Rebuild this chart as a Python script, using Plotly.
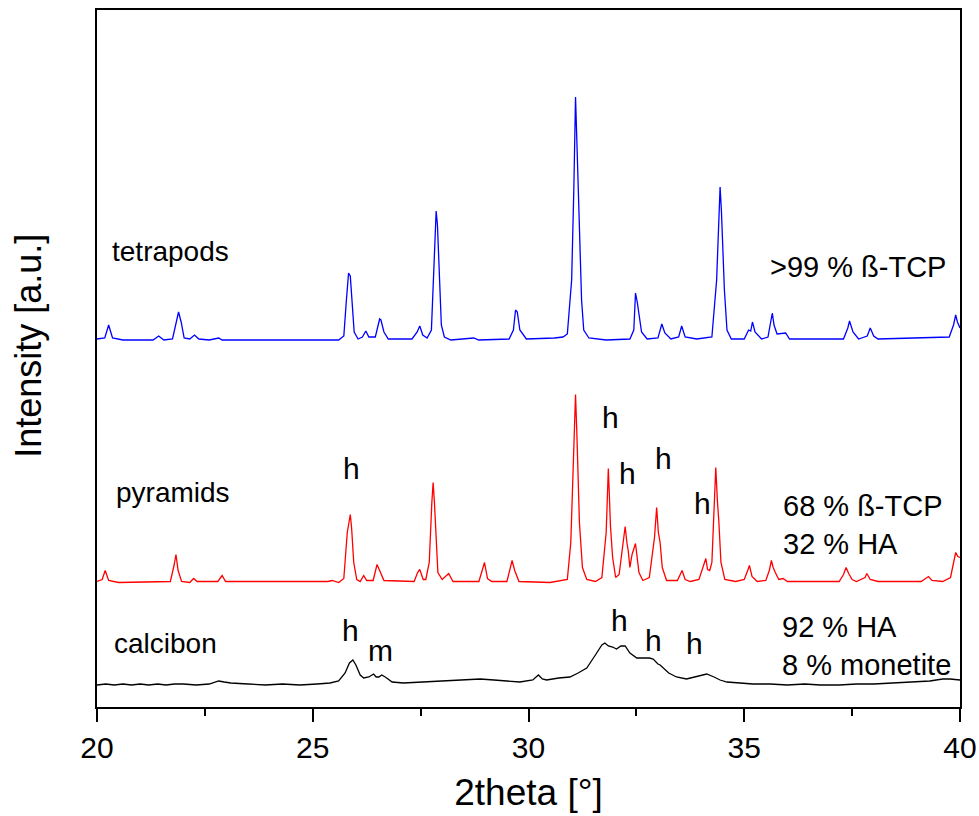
import plotly.graph_objects as go

# ---------------- data (2theta [deg], intensity above each pattern's baseline [a.u.]) ----------------
tetra_x = [20.00, 20.18, 20.27, 20.36, 20.6, 21.3, 21.43, 21.55, 21.75, 21.85, 21.89, 21.95, 22.02, 22.15,
           22.26, 22.36, 22.6, 22.82, 22.9, 25.6, 25.72, 25.78, 25.83, 25.87, 25.91, 25.96, 26.05, 26.15,
           26.23, 26.3, 26.45, 26.55, 26.58, 26.65, 26.75, 27.3, 27.42, 27.48, 27.55, 27.65, 27.75, 27.81,
           27.86, 27.89, 27.93, 27.98, 28.05, 28.2, 28.73, 28.85, 29.55, 29.65, 29.70, 29.74, 29.80, 29.95,
           30.6, 30.8, 30.9, 31.0, 31.05, 31.09, 31.12, 31.16, 31.19, 31.23, 31.28, 31.4, 31.8, 32.35,
           32.44, 32.48, 32.52, 32.56, 32.62, 32.75, 33.00, 33.09, 33.16, 33.3, 33.48, 33.55, 33.63, 33.9,
           34.25, 34.36, 34.41, 34.44, 34.47, 34.50, 34.54, 34.60, 34.7, 35.0, 35.10, 35.15, 35.19, 35.25,
           35.4, 35.55, 35.62, 35.65, 35.69, 35.76, 35.96, 36.05, 37.3, 37.40, 37.44, 37.52, 37.65, 37.85,
           37.92, 38.0, 38.1, 39.75, 39.85, 39.90, 39.94, 40.0]
tetra_y = [1, 2, 15, 2, 0, 0, 4, 0, 1, 22, 28, 18, 2, 1,
           5, 1, 0, 2, 0, 0, 4, 40, 67, 64, 37, 8, 1, 3,
           9, 3, 3, 21, 20, 8, 1, 1, 8, 14, 5, 2, 10, 80,
           129, 115, 60, 15, 3, 0, 2, 0, 1, 10, 30, 28, 10, 1,
           2, 3, 6, 60, 150, 243, 200, 137, 112, 40, 10, 2, 0, 1,
           10, 47, 38, 27, 8, 1, 2, 16, 7, 1, 3, 14, 3, 1,
           3, 60, 110, 153, 130, 92, 50, 10, 1, 1, 10, 9, 18, 8,
           1, 3, 20, 27, 15, 6, 7, 1, 1, 12, 19, 8, 1, 4,
           12, 4, 1, 3, 15, 25, 18, 12]

pyr_x = [20.0, 20.12, 20.19, 20.27, 20.5, 21.7, 21.79, 21.83, 21.88, 21.96, 22.15, 22.24, 22.32, 22.8,
         22.90, 22.98, 25.35, 25.45, 25.6, 25.72, 25.80, 25.87, 25.90, 25.95, 26.02, 26.10, 26.18, 26.25,
         26.4, 26.49, 26.55, 26.65, 27.35, 27.43, 27.48, 27.56, 27.62, 27.70, 27.76, 27.79, 27.82, 27.85,
         27.90, 28.0, 28.15, 28.25, 28.85, 28.94, 28.98, 29.05, 29.15, 29.5, 29.58, 29.62, 29.68, 29.78,
         30.5, 30.9, 30.98, 31.04, 31.09, 31.12, 31.15, 31.18, 31.25, 31.35, 31.55, 31.70, 31.80, 31.85,
         31.88, 31.90, 31.95, 32.02, 32.1, 32.20, 32.24, 32.28, 32.31, 32.35, 32.40, 32.48, 32.52, 32.56,
         32.65, 32.80, 32.92, 32.97, 33.01, 33.05, 33.10, 33.2, 33.45, 33.52, 33.56, 33.63, 33.75, 33.95,
         34.06, 34.11, 34.15, 34.20, 34.25, 34.30, 34.34, 34.38, 34.41, 34.46, 34.55, 34.8, 35.0, 35.08,
         35.12, 35.18, 35.3, 35.5, 35.58, 35.63, 35.67, 35.72, 35.80, 35.90, 36.0, 37.2, 37.30, 37.36,
         37.42, 37.5, 37.6, 37.80, 37.84, 37.92, 38.1, 39.1, 39.22, 39.27, 39.35, 39.6, 39.78, 39.85,
         39.90, 39.95, 40.0]
pyr_y = [1, 3, 12, 2, 0, 1, 18, 28, 12, 1, 0, 4, 1, 1,
         7, 1, 1, 2, 0, 4, 50, 68, 55, 20, 3, 1, 7, 2,
         2, 18, 12, 2, 1, 10, 13, 3, 3, 20, 80, 100, 80, 47,
         10, 3, 9, 1, 1, 14, 20, 4, 1, 1, 15, 22, 12, 1,
         0, 3, 40, 120, 188, 150, 90, 60, 15, 3, 1, 5, 50, 114,
         80, 56, 25, 5, 8, 40, 56, 40, 32, 15, 28, 39, 22, 10,
         2, 5, 45, 75, 50, 40, 15, 2, 2, 8, 12, 3, 1, 3,
         18, 24, 13, 12, 20, 80, 115, 80, 62, 20, 3, 1, 3, 12,
         17, 6, 1, 2, 12, 22, 15, 10, 3, 4, 1, 1, 8, 15,
         9, 3, 1, 5, 9, 3, 1, 1, 4, 6, 2, 1, 5, 18,
         30, 26, 25]

calc_x = [20.0, 20.2, 20.4, 20.6, 20.8, 21.0, 21.2, 21.4, 21.6, 21.8, 22.0, 22.3, 22.6, 22.82, 22.95, 23.1,
          23.5, 23.9, 24.3, 24.7, 25.1, 25.4, 25.6, 25.75, 25.85, 25.93, 26.0, 26.1, 26.18, 26.3, 26.41,
          26.47, 26.53, 26.6, 26.68, 26.84, 27.1, 27.5, 27.9, 28.3, 28.6, 28.88, 29.2, 29.5, 29.8, 30.1,
          30.23, 30.32, 30.42, 30.7, 30.96, 31.15, 31.35, 31.55, 31.70, 31.77, 31.85, 31.95, 32.04, 32.14,
          32.24, 32.35, 32.51, 32.65, 32.80, 32.89, 33.0, 33.05, 33.25, 33.43, 33.66, 33.85, 34.0, 34.13,
          34.3, 34.44, 34.6, 34.82, 35.2, 35.6, 36.0, 36.4, 36.76, 37.2, 37.6, 38.0, 38.4, 38.8, 39.0,
          39.3, 39.6, 39.77, 40.0]
calc_y = [0, 1, 0, 1, 0, 1, 0, 1, 0, 1, 1, 0, 1, 4, 3, 2,
          1, 0, 1, 0, 1, 2, 4, 12, 22, 25, 20, 10, 7, 8, 11,
          8, 8, 10, 8, 3, 2, 3, 4, 5, 5, 6, 5, 4, 3, 5,
          10, 6, 5, 7, 8, 12, 17, 30, 40, 42, 39, 38, 36, 39,
          39, 32, 27, 27, 27, 26, 21, 20, 12, 8, 6, 8, 10, 11,
          8, 5, 3, 2, 1, 1, 0, 1, 0, 0, 1, 1, 2, 3, 4,
          4, 6, 6, 5]

# labels
sample_names = ["tetrapods", "pyramids", "calcibon"]
phase_texts = [">99 % ß-TCP", "68 % ß-TCP<br>32 % HA", "92 % HA<br>8 % monetite"]

# ---------------- figure ----------------
offsets = {"tetrapods": 367, "pyramids": 124.5, "calcibon": 22}
font = "Arial, 'Liberation Sans', sans-serif"

fig = go.Figure()
for name, xs, ys, col in [("tetrapods", tetra_x, tetra_y, "#0000ff"),
                          ("pyramids", pyr_x, pyr_y, "#ff0000"),
                          ("calcibon", calc_x, calc_y, "#000000")]:
    off = offsets[name]
    fig.add_trace(go.Scatter(x=xs, y=[v + off for v in ys], mode="lines", name=name,
                             line=dict(color=col, width=1.3), showlegend=False))

ann = []
# sample names
for name, (x, y) in zip(sample_names, [(20.3, 456), (20.4, 215), (20.34, 64)]):
    ann.append(dict(x=x, y=y, text=name, xanchor="left", yanchor="middle", font=dict(size=28)))
# phase compositions
for txt, (x, y) in zip(phase_texts, [(35.55, 440), (35.85, 182), (35.82, 61)]):
    ann.append(dict(x=x, y=y, text=txt, xanchor="left", yanchor="middle", align="left", font=dict(size=29)))
# phase peak markers
marks = [("h", 25.90, 239), ("h", 31.90, 290), ("h", 32.30, 234), ("h", 33.12, 249), ("h", 34.03, 204),
         ("h", 25.87, 77), ("m", 26.57, 57), ("h", 32.12, 87), ("h", 32.89, 67), ("h", 33.84, 64)]
for t, x, y in marks:
    ann.append(dict(x=x, y=y, text=t, xanchor="center", yanchor="middle", font=dict(size=30)))
for a in ann:
    a.update(xref="x", yref="y", showarrow=False)
    a["font"].update(family=font, color="black")

# y-axis title placed as rotated text
ann.append(dict(x=-0.079, y=0.518, xref="paper", yref="paper", text="Intensity [a.u.]", textangle=-90,
                showarrow=False, xanchor="center", yanchor="middle",
                font=dict(family=font, size=36, color="black")))

fig.update_layout(
    width=979, height=816,
    margin=dict(l=97, r=19, t=10, b=109, autoexpand=False),
    paper_bgcolor="white", plot_bgcolor="white",
    font=dict(family=font, color="black"),
    annotations=ann,
    xaxis=dict(range=[20, 40], tickvals=[20, 25, 30, 35, 40], ticks="outside", ticklen=13, tickwidth=2,
               tickcolor="black", showline=True, linewidth=2, linecolor="black", mirror=True,
               showgrid=False, zeroline=False, tickfont=dict(size=30), automargin=False,
               minor=dict(tickvals=[22.5, 27.5, 32.5, 37.5], ticks="outside", ticklen=7, tickwidth=2,
                          tickcolor="black", showgrid=False),
               title=dict(text="2theta [°]", font=dict(size=37), standoff=16)),
    yaxis=dict(range=[0, 697], showticklabels=False, ticks="", showline=True, linewidth=2,
               linecolor="black", mirror=True, showgrid=False, zeroline=False, automargin=False),
)

fig.write_html("out.html")
